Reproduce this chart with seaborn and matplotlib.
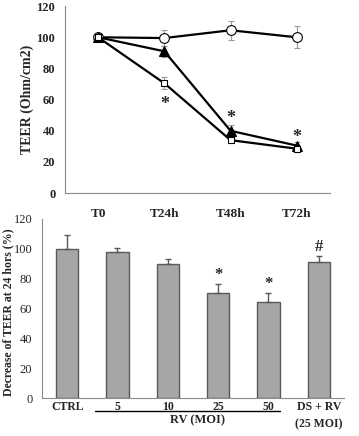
import matplotlib
matplotlib.use("Agg")
import matplotlib.pyplot as plt
import numpy as np
import pandas as pd
import seaborn as sns
from matplotlib.lines import Line2D

# top panel: TEER over time
times = ["T0", "T24h", "T48h", "T72h"]
ctrl_vals = [100, 99.5, 104.5, 100]
ctrl_err = [1, 5, 6, 7]
tri_vals = [100, 91, 40, 30.5]
tri_err = [1, 3.5, 4, 2.5]
sq_vals = [100, 70.5, 34, 28.5]
sq_err = [1, 4, 1.5, 2]
star_top_x = [1, 2, 3]
star_top_y = [57, 48, 36]

# bottom panel: decrease at 24h
groups = ["CTRL", "5", "10", "25", "50", "DS + RV\n(25 MOI)"]
bar_vals = [100, 98, 89.5, 70.5, 64, 91]
bar_err = [9, 2.5, 3.5, 6, 6.5, 4]
bar_marks = ["", "", "", "*", "*", "#"]

sns.set_style("white")
plt.rcParams['font.family'] = ['Liberation Serif', 'DejaVu Serif']

fig = plt.figure(figsize=(3.59, 4.36), dpi=100)
ax1 = fig.add_axes([0.181, 0.557, 0.738, 0.429])
ax2 = fig.add_axes([0.117, 0.087, 0.841, 0.411])

axis_gray = "#8c8c8c"

# TOP LINES
xpos = np.arange(len(times))
series = [(ctrl_vals, ctrl_err, "o", "white", 7),
          (tri_vals, tri_err, "^", "black", 6.5),
          (sq_vals, sq_err, "s", "white", 5)]
for vals, err, mk, fc, ms in series:
    ax1.errorbar(xpos, vals, yerr=err, fmt="none", ecolor="#9a9a9a",
                 elinewidth=0.8, capsize=2, capthick=0.8, zorder=2)
    sns.lineplot(x=xpos, y=vals, ax=ax1, color="black", linewidth=1.6,
                 marker=mk, markersize=ms, markerfacecolor=fc,
                 markeredgecolor="black", markeredgewidth=0.8, zorder=3)
for x, y in zip(star_top_x, star_top_y):
    ax1.text(x, y, "*", ha="center", va="center", fontsize=13, fontweight="bold")

ax1.set_xlim(-0.5, 3.5)
ax1.set_ylim(0, 120)
ax1.set_yticks(range(0, 121, 20))
ax1.set_xticks(xpos)
ax1.set_xticklabels(times, fontweight="bold", fontsize=9.5)
ax1.set_xticks(xpos + 0.5, minor=True)
ax1.tick_params(axis="x", which="major", length=0, pad=11)
ax1.tick_params(axis="x", which="minor", length=3, color=axis_gray, direction="out")
ax1.tick_params(axis="y", length=3, color=axis_gray, direction="out", labelsize=9, pad=4)
for lab in ax1.get_yticklabels():
    lab.set_fontweight("bold")
ax1.set_ylabel("TEER (Ohm/cm2)", fontweight="bold", fontsize=10)
ax1.yaxis.set_label_coords(-0.117, 0.5)
ax1.set_xlabel("")

# BOTTOM BARS
df = pd.DataFrame({"group": groups, "value": bar_vals})
sns.barplot(data=df, x="group", y="value", ax=ax2, color="#a6a6a6",
            saturation=1, width=0.44, edgecolor="#5a5a5a", linewidth=1, errorbar=None)
bx = np.arange(len(groups))
ax2.errorbar(bx, bar_vals, yerr=[np.zeros(len(bar_err)), bar_err], fmt="none",
             ecolor="#5a5a5a", elinewidth=1, capsize=2.5, capthick=1)
for x, v, e, m in zip(bx, bar_vals, bar_err, bar_marks):
    if m:
        ax2.text(x, v + e + 6, m, ha="center", va="center", fontsize=12, fontweight="bold")

ax2.set_xlim(-0.5, 5.5)
ax2.set_ylim(0, 120)
ax2.set_yticks(range(0, 121, 20))
ax2.set_xticks(bx + 0.5, minor=True)
ax2.tick_params(axis="x", which="major", length=0, pad=2, labelsize=8.5)
ax2.tick_params(axis="x", which="minor", length=3, color=axis_gray, direction="out")
ax2.tick_params(axis="y", length=3, color=axis_gray, direction="out", labelsize=9, pad=4)
for lab in ax2.get_xticklabels():
    lab.set_fontweight("bold")
    lab.set_verticalalignment("top")
    lab.set_linespacing(1.6)
ax2.set_ylabel("Decrease of TEER at 24 hors (%)", fontweight="bold", fontsize=8.5)
ax2.yaxis.set_label_coords(-0.092, 0.48)
ax2.set_xlabel("")

for ax in (ax1, ax2):
    ax.spines["top"].set_visible(False)
    ax.spines["right"].set_visible(False)
    ax.spines["left"].set_color(axis_gray)
    ax.spines["bottom"].set_color(axis_gray)
    ax.spines["left"].set_linewidth(0.8)
    ax.spines["bottom"].set_linewidth(0.8)

# RV (MOI) bracket under the middle bars
fig.add_artist(Line2D([0.265, 0.780], [0.0573, 0.0573], color="black", linewidth=1))
fig.text(0.549, 0.035, "RV (MOI)", ha="center", va="center", fontsize=9, fontweight="bold")

fig.savefig("out.png", dpi=100)
